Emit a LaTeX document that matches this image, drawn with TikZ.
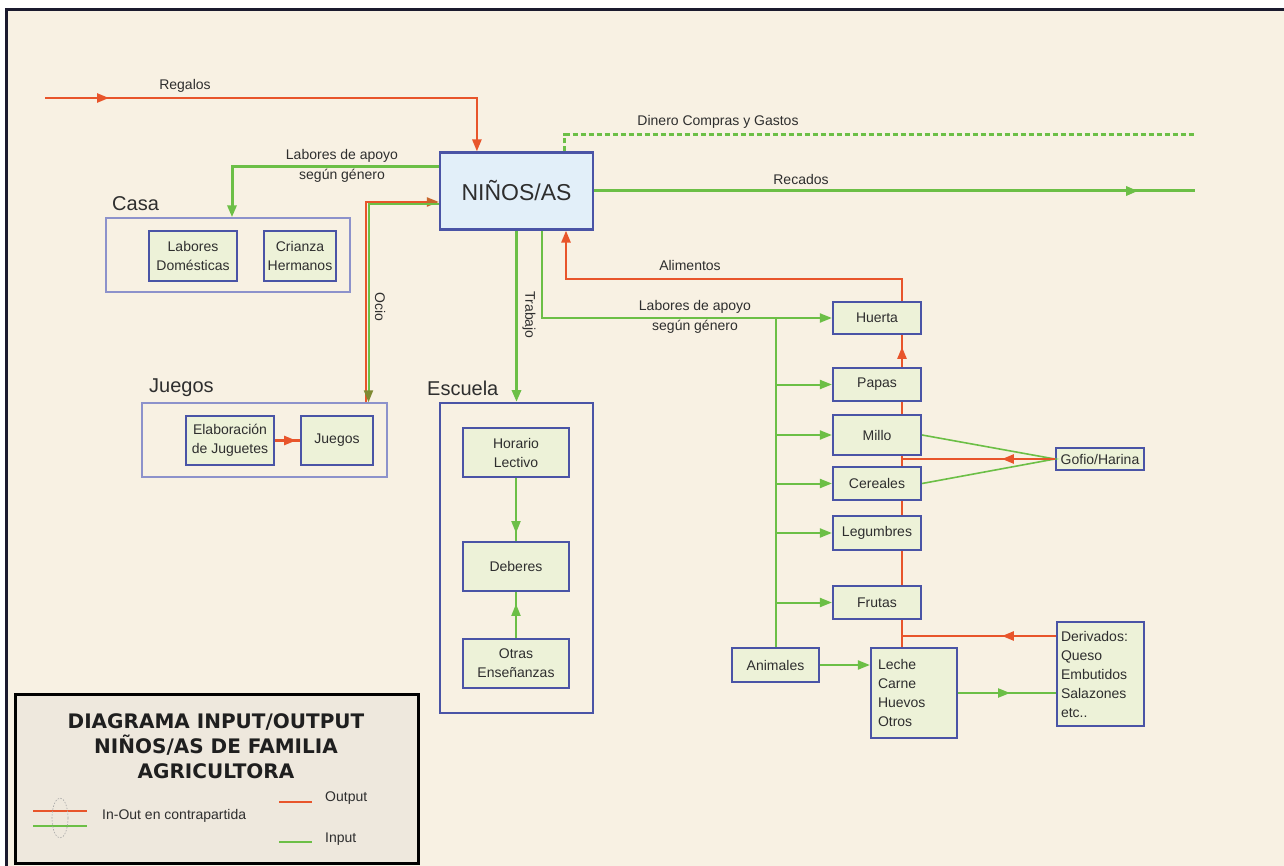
\documentclass[tikz,border=0pt]{standalone}
\usepackage{fontspec}
\setmainfont{Liberation Sans}
\newfontfamily\titlefont{DejaVu Sans}
\usetikzlibrary{arrows.meta,decorations.markings}
\definecolor{ored}{HTML}{E8552B}
\definecolor{grn}{HTML}{6CBF46}
\definecolor{boxc}{HTML}{4A54A6}
\definecolor{boxfill}{HTML}{EDF2D8}
\definecolor{ninfill}{HTML}{E2EFF9}
\definecolor{grpc}{HTML}{8D92CB}
\definecolor{bgc}{HTML}{F8F1E3}
\definecolor{txt}{HTML}{2E2E2E}
\definecolor{legfill}{HTML}{EEE8DD}
\definecolor{framec}{HTML}{1B1A2E}
\definecolor{ocioA}{HTML}{C8662C}
\definecolor{ocioB}{HTML}{7F8A33}
\tikzset{
  lbl/.style={font=\fontsize{14}{20}\selectfont, text=txt, inner sep=0pt, align=center},
  grplbl/.style={font=\fontsize{20}{24}\selectfont, text=txt, inner sep=0pt, anchor=west},
  bx/.style={draw=boxc, line width=2.2pt, fill=boxfill, inner sep=0pt, align=center, text=txt, font=\fontsize{14}{19}\selectfont},
  grp/.style={draw=grpc, line width=1.4pt, inner sep=0pt},
  midarr/.style={postaction={decorate}, decoration={markings, mark=at position #1 with {\arrow{Triangle[length=12pt,width=9pt]}}}},
  lthree/.style={line width=3pt},
  ltwo/.style={line width=2pt},
  ltwohalf/.style={line width=2.5pt},
  redln/.style={color=ored},
  grnln/.style={color=grn},
}
\begin{document}
\begin{tikzpicture}[x=1pt,y=-1pt,>={Triangle[length=12pt,width=9pt]}]
\useasboundingbox (0,0) rectangle (1284,866);
\fill[white] (0,0) rectangle (1284,866);
\fill[bgc] (6,9) rectangle (1284,866);
\draw[framec, line width=3pt] (6.5,866) -- (6.5,9.5) -- (1284,9.5);

% ---------- main node ----------
\node[bx, fill=ninfill, minimum width=153pt, minimum height=77pt, font=\fontsize{23}{26}\selectfont] (nin) at (516.5,191) {NIÑOS/AS};

% ---------- Casa ----------
\node[grplbl] (casalbl) at (112,204) {Casa};
\node[grp, minimum width=244pt, minimum height=74pt] (casa) at (228,255) {};
\node[bx, minimum width=88pt, minimum height=50pt] (lab) at (193,256) {Labores\\Domésticas};
\node[bx, minimum width=72pt, minimum height=50pt] (cri) at (300,256) {Crianza\\Hermanos};

% ---------- Juegos ----------
\node[grplbl] (jglbl) at (149,388) {Juegos};
\node[grp, minimum width=245pt, minimum height=74pt] (jg) at (264.5,440) {};
\node[bx, minimum width=88pt, minimum height=49pt] (ela) at (230,440.5) {Elaboración\\de Juguetes};
\node[bx, minimum width=72pt, minimum height=49pt] (jin) at (337,440.5) {Juegos};

% ---------- Escuela ----------
\node[grplbl] (esclbl) at (427,388) {Escuela};
\node[draw=boxc, line width=2pt, inner sep=0pt, minimum width=153pt, minimum height=310pt] (esc) at (516.5,558) {};
\node[bx, minimum width=106pt, minimum height=49pt] (hor) at (516,452.5) {Horario\\Lectivo};
\node[bx, minimum width=106pt, minimum height=49pt] (deb) at (516,566.5) {Deberes};
\node[bx, minimum width=106pt, minimum height=49pt] (otr) at (516,663.5) {Otras\\Enseñanzas};

% ---------- Cultivos ----------
\node[bx, minimum width=88pt, minimum height=32pt] (hue) at (877,318) {Huerta};
\node[bx, minimum width=88pt, minimum height=33pt] (pap) at (877,384.5) {Papas};
\node[bx, minimum width=88pt, minimum height=40pt] (mil) at (877,435) {Millo};
\node[bx, minimum width=88pt, minimum height=33pt] (cer) at (877,483.5) {Cereales};
\node[bx, minimum width=88pt, minimum height=34pt] (leg) at (877,533) {Legumbres};
\node[bx, minimum width=88pt, minimum height=33pt] (fru) at (877,602.5) {Frutas};
\node[bx, minimum width=88pt, minimum height=22pt] (gof) at (1100,459) {Gofio/Harina};
\node[bx, minimum width=87pt, minimum height=34pt] (ani) at (775.5,665) {Animales};
\node[bx, text width=72pt, inner xsep=7pt, align=left, minimum height=90pt] (lec) at (914,693) {Leche\\Carne\\Huevos\\Otros};
\node[bx, text width=79pt, inner xsep=4pt, align=left, minimum height=104pt] (der) at (1100.5,674) {Derivados:\\Queso\\Embutidos\\Salazones\\etc..};

\coordinate (rs) at (45,98);
\coordinate (de) at (1195,135);
\coordinate (re) at (1195,191);
\coordinate (rv) at ([xshift=25pt]hue.south);

% ---------- connectors ----------
% Regalos
\draw[redln, ltwohalf, ->, midarr=64pt] (rs) -| ([xshift=38pt]nin.north west);
\node[lbl] (lregalos) at (185,86) {Regalos};
% Dinero
\draw[grnln, lthree, dash pattern=on 5pt off 3pt] ([xshift=126pt]nin.north west) |- (de);
\node[lbl] (ldinero) at (718,122) {Dinero Compras y Gastos};
% Recados
\draw[grnln, lthree, midarr=544pt] (nin.east) -- (re);
\node[lbl] (lrecados) at (801,179) {Recados};
% Labores de apoyo (casa)
\draw[grnln, lthree, ->] ([yshift=24pt]nin.west) -| ([xshift=4pt]casa.north);
\node[lbl] (llab1) at (342,166) {Labores de apoyo\\según género};
% Ocio
\draw[color=ored, ltwo, -{Triangle[length=12pt,width=9pt,color=ocioA]}] ([xshift=101pt]jg.north) |- ([yshift=-11pt]nin.west);
\draw[color=grn, ltwo, -{Triangle[length=12pt,width=9pt,color=ocioB]}] ([yshift=-13.5pt]nin.west) -| ([xshift=104pt]jg.north);
\node[lbl, rotate=-90] (locio) at (380,307) {Ocio};
% Trabajo
\draw[grnln, lthree, ->] (nin.south) -- (esc.north);
\node[lbl, rotate=-90] (ltrabajo) at (529,315) {Trabajo};
% Alimentos
\draw[redln, ltwohalf, ->] ([xshift=25pt]hue.north) -- ++(0,-22) -| ([xshift=49.5pt]nin.south);
\node[lbl] (lalim) at (690,265) {Alimentos};
% Labores de apoyo (campo)
\draw[grnln, ltwo, ->] ([xshift=25.5pt]nin.south) |- (hue.west);
\node[lbl] (llab2) at (695,317) {Labores de apoyo\\según género};
\draw[grnln, ltwo] (ani.north) -- (ani.north |- hue.west);
\foreach \n in {pap,mil,cer,leg,fru}
  \draw[grnln, ltwo, ->] (ani.north |- \n.west) -- (\n.west);
% red column
\draw[redln, ltwohalf, midarr=20pt] ([xshift=25pt]pap.north) -- ([xshift=25pt]hue.south);
\draw[redln, ltwohalf] ([xshift=25pt]mil.north) -- ([xshift=25pt]pap.south);
\draw[redln, ltwohalf] ([xshift=25pt]cer.north) -- ([xshift=25pt]mil.south);
\draw[redln, ltwohalf] ([xshift=25pt]leg.north) -- ([xshift=25pt]cer.south);
\draw[redln, ltwohalf] ([xshift=25pt]fru.north) -- ([xshift=25pt]leg.south);
\draw[redln, ltwohalf] ([xshift=-12pt]lec.north) -- ([xshift=25pt]fru.south);
% Gofio
\draw[grnln, line width=1.6pt] (mil.east) -- (gof.west) -- (cer.east);
\draw[redln, ltwohalf, midarr=53pt] (gof.west) -- (gof.west -| rv);
% Derivados
\draw[redln, ltwohalf, midarr=54pt] ([yshift=38pt]der.west) -- ([yshift=38pt]der.west -| rv);
\draw[grnln, ltwo, midarr=52pt] (lec.east) -- (lec.east -| der.west);
\draw[grnln, ltwo, ->] (ani.east) -- (ani.east -| lec.west);
% Escuela
\draw[grnln, ltwo, midarr=55pt] (hor.south) -- (deb.north);
\draw[grnln, ltwo, midarr=34pt] (otr.north) -- (deb.south);
% Juegos
\draw[redln, ltwohalf, midarr=21pt] (ela.east) -- (jin.west);

% ---------- legend ----------
\node[draw=black, line width=3pt, fill=legfill, inner sep=0pt, minimum width=403pt, minimum height=169pt] (leg box) at (216.5,778.5) {};
\node[font=\titlefont\bfseries\fontsize{20}{25}\selectfont, text=black!88, align=center, inner sep=0pt] (ltitle) at (216,746) {DIAGRAMA INPUT/OUTPUT\\NIÑOS/AS DE FAMILIA\\AGRICULTORA};
\coordinate (lo1) at (33,811); \coordinate (lo2) at (87,811);
\coordinate (lg1) at (33,826); \coordinate (lg2) at (87,826);
\draw[redln, ltwohalf] (lo1) -- (lo2);
\draw[grnln, ltwohalf] (lg1) -- (lg2);
\draw[gray!70, line width=0.6pt, dash pattern=on 1.5pt off 1.5pt] (60,818) ellipse [x radius=8pt, y radius=20pt];
\node[lbl, anchor=west] (linout) at (102,816) {In-Out en contrapartida};
\coordinate (oo1) at (279,802); \coordinate (oo2) at (312,802);
\coordinate (ii1) at (279,842); \coordinate (ii2) at (312,842);
\draw[redln, ltwohalf] (oo1) -- (oo2);
\draw[grnln, ltwohalf] (ii1) -- (ii2);
\node[lbl, anchor=west] (lout) at (325,798) {Output};
\node[lbl, anchor=west] (lin) at (325,839) {Input};
\end{tikzpicture}
\end{document}
